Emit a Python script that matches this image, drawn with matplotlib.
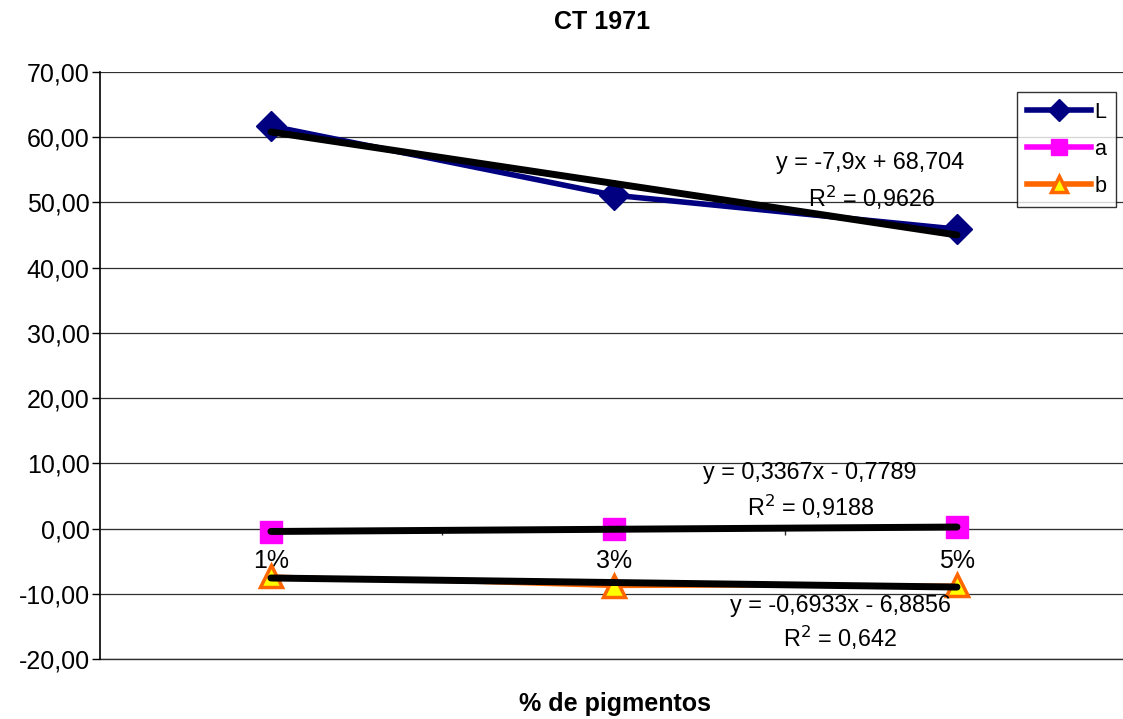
import numpy as np
import matplotlib.pyplot as plt
from matplotlib.ticker import FuncFormatter

plt.rcParams['font.family'] = ['Liberation Sans', 'DejaVu Sans']

categories = ['1%', '3%', '5%']
L = [61.70, 51.10, 45.90]
a = [-0.50, 0.00, 0.18]
b = [-7.28, -8.87, -8.67]
eq_L = ['y = -7,9x + 68,704', 'R$^2$ = 0,9626']
eq_a = ['y = 0,3367x - 0,7789', 'R$^2$ = 0,9188']
eq_b = ['y = -0,6933x - 6,8856', 'R$^2$ = 0,642']

fig = plt.figure(figsize=(11.23, 7.19), dpi=100)
ax = fig.add_axes([0.089, 0.0834, 0.911, 0.8166])

x = np.arange(len(categories))

ax.plot(x, L, color='#000080', lw=4, marker='D', ms=15, mfc='#000080', mec='#000080', label='L', zorder=3)
ax.plot(x, a, color='#FF00FF', lw=2.5, marker='s', ms=16, mfc='#FF00FF', mec='#FF00FF', label='a', zorder=3)
ax.plot(x, b, color='#FF6600', lw=2.5, marker='^', ms=16, mfc='#FFFF00', mec='#FF6600', mew=2.5, label='b', zorder=3)

# linear trendlines (Excel uses x = 1, 2, 3)
for ys in (L, a, b):
    k, c = np.polyfit(x + 1, ys, 1)
    ax.plot(x, k * (x + 1) + c, color='black', lw=5, solid_capstyle='round', zorder=4)

ax.set_xlim(-0.4985, 2.484)
ax.set_ylim(-20, 70)
ax.set_yticks(np.arange(-20, 71, 10))
ax.yaxis.set_major_formatter(FuncFormatter(lambda v, p: f'{v:.2f}'.replace('.', ',')))
ax.tick_params(axis='y', labelsize=18, length=6, width=1, direction='out', pad=1.5)
ax.grid(axis='y', color='#303030', lw=0.9)
ax.axhline(-20, color='#303030', lw=1.0, zorder=0, clip_on=False)
ax.set_axisbelow(True)

ax.set_xticks(x)
ax.set_xticklabels(categories)
ax.set_xticks([0.5, 1.5], minor=True)
ax.spines['bottom'].set_position(('data', 0))
ax.spines['bottom'].set_color('#303030')
ax.tick_params(axis='x', which='major', length=0, labelsize=18, pad=15)
ax.tick_params(axis='x', which='minor', length=4, width=1, direction='out', color='#303030')
for s in ('top', 'right'):
    ax.spines[s].set_visible(False)
ax.spines['left'].set_linewidth(1.2)

kw = dict(fontsize=16.8, ha='center', va='center', zorder=5)
ax.text(1.746, 56.05, eq_L[0], **kw)
ax.text(1.752, 50.68, eq_L[1], **kw)
ax.text(1.571, 8.67, eq_a[0], **kw)
ax.text(1.574, 3.30, eq_a[1], **kw)
ax.text(1.659, -11.72, eq_b[0], **kw)
ax.text(1.659, -16.78, eq_b[1], **kw)

leg = ax.legend(loc='upper left', bbox_to_anchor=(0.8964, 0.966), fontsize=15.5, frameon=True,
                fancybox=False, edgecolor='black', handlelength=3.0, borderpad=0.45,
                labelspacing=0.75, handletextpad=0.15, borderaxespad=0, markerscale=0.75)
leg.get_frame().set_linewidth(1.0)
leg.set_zorder(6)
for h in leg.get_lines():
    h.set_linewidth(4)

fig.text(0.536, 0.969, 'CT 1971', ha='center', va='center', fontsize=18, fontweight='bold')
fig.text(0.548, 0.021, '% de pigmentos', ha='center', va='center', fontsize=18, fontweight='bold')

fig.savefig('out.png', dpi=100)
